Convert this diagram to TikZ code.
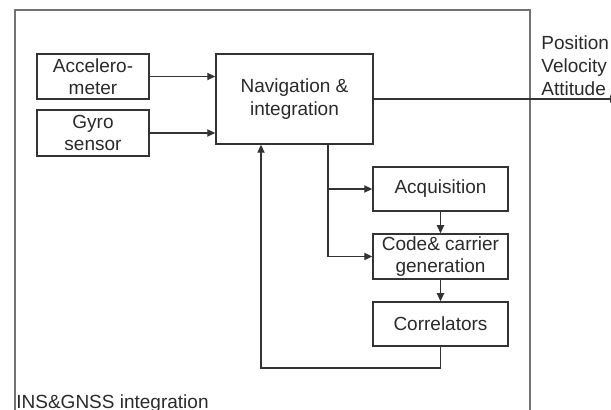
\documentclass[tikz,border=0pt]{standalone}
\usepackage{fontspec}
\setmainfont{Liberation Sans}
\usetikzlibrary{positioning,calc,arrows.meta}
\definecolor{linec}{HTML}{333333}
\definecolor{textc}{HTML}{2A2A2A}

\begin{document}
\begin{tikzpicture}[x=0.5pt, y=-0.5pt,
    font=\fontsize{9.5}{11.2}\selectfont, text=textc,
    blk/.style={draw=linec, line width=0.75pt, align=center, inner sep=1pt},
    link/.style={draw=linec, line width=0.65pt},
    arr/.style={link, -{Triangle[length=4pt,width=3.6pt]}}]
  \useasboundingbox (0,0) rectangle (611,410);
  % frame of the integrated receiver, open at the bottom
  \draw[draw=black!55, line width=0.75pt] (15,420) -- (15,10) -- (530,10) -- (530,420);
  \node[anchor=base west, inner sep=0pt] (ttl) at (16,408.5){INS\&GNSS integration};
  % inertial sensors and navigation block
  \node[blk, minimum width=56pt, minimum height=22.5pt] (acc) at (93,76.5){Accelero-\\meter};
  \node[blk, minimum width=56pt, minimum height=23pt] (gyr) at (93,133){Gyro\\sensor};
  \node[blk, minimum width=78.5pt, minimum height=45pt] (nav) at (294.5,99){Navigation \&\\integration};
  % receiver tracking chain
  \node[blk, minimum width=67.5pt, minimum height=22pt] (acq) at (440.5,189){Acquisition};
  \node[blk, minimum width=67.5pt, minimum height=22.5pt] (cod) at (440.5,256.5){Code\& carrier\\generation};
  \node[blk, minimum width=67.5pt, minimum height=22pt] (cor) at (440.5,324){Correlators};
  % outputs
  \node[anchor=north west, align=left, inner sep=0pt, font=\fontsize{9.5}{11.5}\selectfont] (pva) at (541,35){Position\\Velocity\\Attitude};
  \coordinate (out) at (618,99);
  \coordinate (tap) at (328,144);
  \coordinate (fb) at (261,368);
  \draw[arr] (acc.east) -- (acc.east -| nav.west);
  \draw[arr] (gyr.east) -- (gyr.east -| nav.west);
  \draw[arr] (nav.east) -- (out);
  \draw[arr] (tap) |- (acq.west);
  \draw[arr] (tap) |- (cod.west);
  \draw[arr] (acq.south) -- (cod.north);
  \draw[arr] (cod.south) -- (cor.north);
  \draw[arr] (cor.south) |- (fb) -- (fb |- nav.south);
\end{tikzpicture}
\end{document}
